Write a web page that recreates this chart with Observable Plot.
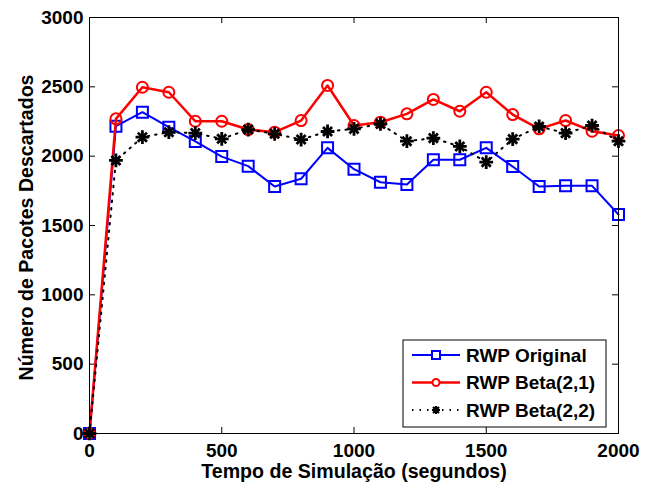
<!DOCTYPE html>
<html>
<head>
<meta charset="utf-8">
<script src="https://cdn.jsdelivr.net/npm/d3@7"></script>
<script src="https://cdn.jsdelivr.net/npm/@observablehq/plot@0.6"></script>
<style>
  html, body { margin: 0; padding: 0; background: #fff; }
  #chart { position: relative; width: 653px; height: 483px; }
</style>
</head>
<body>
<div id="chart"></div>
<script>
// ---- data ----
const times = [0, 100, 200, 300, 400, 500, 600, 700, 800, 900, 1000, 1100, 1200, 1300, 1400, 1500, 1600, 1700, 1800, 1900, 2000];
const rwpOriginal = [0, 2216, 2317, 2209, 2106, 1997, 1928, 1781, 1837, 2060, 1906, 1812, 1796, 1974, 1974, 2060, 1925, 1781, 1786, 1786, 1579];
const rwpBeta21 = [0, 2269, 2497, 2461, 2252, 2252, 2192, 2173, 2257, 2510, 2221, 2245, 2305, 2409, 2324, 2461, 2300, 2197, 2257, 2180, 2149];
const rwpBeta22 = [0, 1969, 2137, 2173, 2166, 2125, 2192, 2161, 2120, 2178, 2197, 2233, 2108, 2130, 2070, 1957, 2123, 2214, 2166, 2221, 2108];
const seriesNames = ["RWP Original", "RWP Beta(2,1)", "RWP Beta(2,2)"];
const xTicks = [0, 500, 1000, 1500, 2000];
const yTicks = [0, 500, 1000, 1500, 2000, 2500, 3000];
const xLabel = "Tempo de Simulação (segundos)";
const yLabel = "Número de Pacotes Descartados";

const orig = times.map((t, i) => ({t, v: rwpOriginal[i]}));
const b21 = times.map((t, i) => ({t, v: rwpBeta21[i]}));
const b22 = times.map((t, i) => ({t, v: rwpBeta22[i]}));

const W = 653, H = 483;
const mT = 17, mB = 50, mL = 89, mR = 35;
const innerH = H - mT - mB, innerW = W - mL - mR;
const tickLen = 6;
const fmt = d3.format("d");

const svg = Plot.plot({
  width: W, height: H,
  marginTop: mT, marginBottom: mB, marginLeft: mL, marginRight: mR,
  style: {fontFamily: "'Liberation Sans', Arial, sans-serif", fontSize: "19px", fontWeight: "bold", color: "#000", background: "#fff"},
  x: {domain: [0, 2000]},
  y: {domain: [0, 3000]},
  marks: [
    Plot.axisX(xTicks, {tickSize: 0, tickPadding: 10, tickFormat: fmt, label: null}),
    Plot.axisY(yTicks, {tickSize: 0, tickPadding: 6, tickFormat: fmt, label: null}),
    // inward ticks on all four sides
    Plot.tickX(xTicks, {x: d => d, insetTop: innerH - tickLen, stroke: "#000"}),
    Plot.tickX(xTicks, {x: d => d, insetBottom: innerH - tickLen, stroke: "#000"}),
    Plot.tickY(yTicks, {y: d => d, insetRight: innerW - tickLen, stroke: "#000"}),
    Plot.tickY(yTicks, {y: d => d, insetLeft: innerW - tickLen, stroke: "#000"}),
    // series
    Plot.line(orig, {x: "t", y: "v", stroke: "#0000ff", strokeWidth: 2}),
    Plot.dot(orig, {x: "t", y: "v", symbol: "square", r: 6.2, stroke: "#0000ff", strokeWidth: 2, fill: "none"}),
    Plot.line(b21, {x: "t", y: "v", stroke: "#ff0000", strokeWidth: 2.5}),
    Plot.dot(b21, {x: "t", y: "v", symbol: "circle", r: 5.5, stroke: "#ff0000", strokeWidth: 2, fill: "none"}),
    Plot.line(b22, {x: "t", y: "v", stroke: "#000", strokeWidth: 2, strokeDasharray: "1.5,6"}),
    Plot.dot(b22, {x: "t", y: "v", symbol: "plus", r: 4.5, stroke: "#000", strokeWidth: 2.8}),
    Plot.dot(b22, {x: "t", y: "v", symbol: "times", r: 4.2, stroke: "#000", strokeWidth: 2.8}),
    Plot.frame({stroke: "#000", strokeWidth: 1}),
    // axis titles
    Plot.text([xLabel], {frameAnchor: "bottom", lineAnchor: "middle", textAnchor: "middle", dy: 38, fontSize: 19.6, text: d => d, fill: "#000"}),
    Plot.text([yLabel], {frameAnchor: "left", lineAnchor: "middle", textAnchor: "middle", dx: -63, dy: 2, fontSize: 19.6, rotate: -90, text: d => d, fill: "#000"})
  ]
});

// ---- legend (inside plot, lower right) ----
const lg = d3.select(svg).append("g")
  .attr("font-family", "'Liberation Sans', Arial, sans-serif")
  .attr("font-size", 19).attr("font-weight", "bold").attr("text-anchor", "start");
const box = {x: 403, y: 340, w: 203, h: 87};
lg.append("rect").attr("x", box.x).attr("y", box.y).attr("width", box.w).attr("height", box.h)
  .attr("fill", "#fff").attr("stroke", "#000").attr("stroke-width", 1);
const rows = [
  {name: seriesNames[0], color: "#0000ff", width: 2, dash: null, marker: "square"},
  {name: seriesNames[1], color: "#ff0000", width: 2.5, dash: null, marker: "circle"},
  {name: seriesNames[2], color: "#000", width: 2, dash: "1.5,6", marker: "star"}
];
rows.forEach((r, i) => {
  const cy = 355 + i * 27.5;
  const g = lg.append("g");
  g.append("line").attr("x1", 412).attr("x2", 460).attr("y1", cy).attr("y2", cy)
    .attr("stroke", r.color).attr("stroke-width", r.width).attr("stroke-dasharray", r.dash);
  if (r.marker === "square") {
    g.append("rect").attr("x", 436 - 4).attr("y", cy - 4).attr("width", 8).attr("height", 8)
      .attr("fill", "#fff").attr("stroke", r.color).attr("stroke-width", 2);
  } else if (r.marker === "circle") {
    g.append("circle").attr("cx", 436).attr("cy", cy).attr("r", 3.5)
      .attr("fill", "#fff").attr("stroke", r.color).attr("stroke-width", 2);
  } else {
    g.append("path").attr("d", "M-4,0H4M0,-4V4M-3,-3L3,3M-3,3L3,-3").attr("transform", `translate(436,${cy})`)
      .attr("stroke", r.color).attr("stroke-width", 2.2).attr("fill", "none");
  }
  g.append("text").attr("x", 466).attr("y", cy).attr("dy", "0.35em").attr("fill", "#000").text(r.name);
});

document.getElementById("chart").appendChild(svg);
</script>
</body>
</html>
